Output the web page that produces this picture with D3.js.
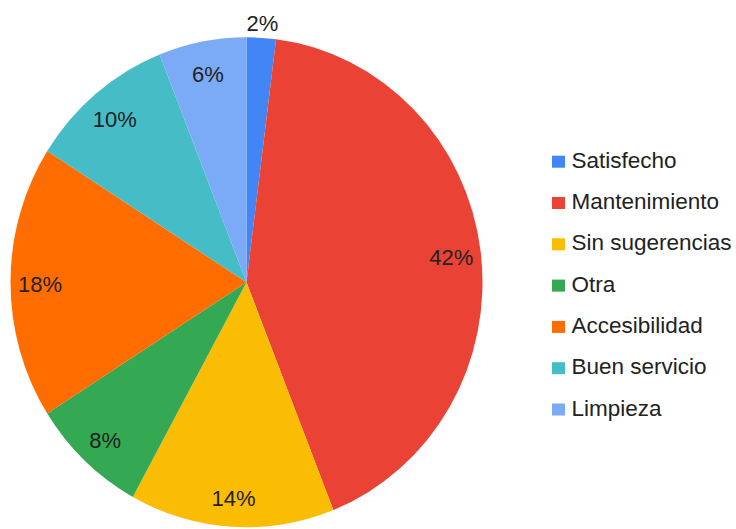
<!DOCTYPE html>
<html>
<head>
<meta charset="utf-8">
<script src="https://cdn.jsdelivr.net/npm/d3@7"></script>
<style>
  html, body { margin: 0; padding: 0; background: #fff; }
  svg { display: block; }
  text { font-family: "Liberation Sans", Arial, sans-serif; }
</style>
</head>
<body>
<svg id="chart" width="736" height="529"></svg>
<script>
const categories = ["Satisfecho", "Mantenimiento", "Sin sugerencias", "Otra", "Accesibilidad", "Buen servicio", "Limpieza"];
const values = [2, 42, 14, 8, 18, 10, 6];
const colors = ["#4285f4", "#ea4335", "#fbbc04", "#34a853", "#ff6d01", "#46bdc6", "#7baaf7"];

const W = 736, H = 529;
const cx = 246.5, cy = 282.3, rx = 236, ry = 245;

const svg = d3.select("#chart");
const data = categories.map((c, i) => ({ name: c, value: values[i], color: colors[i] }));
const total = d3.sum(values);

const pie = d3.pie().value(d => d.value).sort(null);
const arcs = pie(data);
const arc = d3.arc().innerRadius(0).outerRadius(rx);

const g = svg.append("g")
  .attr("transform", `translate(${cx},${cy}) scale(1,${ry / rx})`);

g.selectAll("path")
  .data(arcs)
  .join("path")
  .attr("d", arc)
  .attr("fill", d => d.data.color);

// labels
const labelF = d => d.data.value / total < 0.03 ? 1.07 : 0.875;
svg.append("g").selectAll("text")
  .data(arcs)
  .join("text")
  .attr("x", d => cx + Math.sin((d.startAngle + d.endAngle) / 2) * rx * labelF(d))
  .attr("y", d => cy - Math.cos((d.startAngle + d.endAngle) / 2) * ry * labelF(d))
  .attr("dy", "0.45em")
  .attr("text-anchor", "middle")
  .attr("font-size", "22px")
  .attr("fill", "#222")
  .text(d => Math.round(d.data.value / total * 100) + "%");

// legend
const legend = svg.append("g").attr("transform", "translate(552,0)");
const rowY = d3.scaleLinear().domain([0, 1]).range([167.7, 209]);
const items = legend.selectAll("g")
  .data(data)
  .join("g")
  .attr("transform", (d, i) => `translate(0,${rowY(i)})`);
items.append("rect")
  .attr("x", 0).attr("y", -12)
  .attr("width", 13).attr("height", 12)
  .attr("fill", d => d.color);
items.append("text")
  .attr("x", 19.5).attr("y", 0)
  .attr("font-size", "22.5px")
  .attr("fill", "#222")
  .text(d => d.name);
</script>
</body>
</html>
